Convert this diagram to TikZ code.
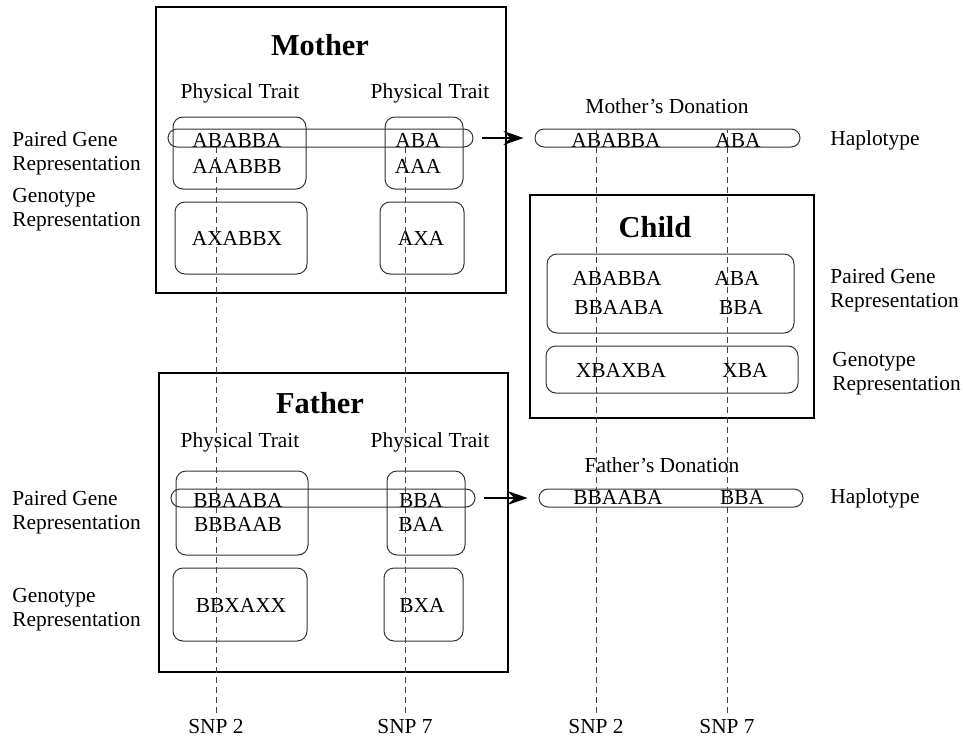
\documentclass[tikz,border=0pt]{standalone}
\usepackage{fontspec}
\setmainfont{Liberation Serif}
\usetikzlibrary{math}
\usetikzlibrary{arrows.meta}

\tikzset{
  txt/.style={font=\fontsize{10.7}{12}\selectfont},
  side/.style={font=\fontsize{10.7}{12}\selectfont, anchor=west, align=left, inner sep=0pt},
  heading/.style={font=\fontsize{15.2}{18}\selectfont\bfseries},
  person/.style={line width=1pt},
  genebox/.style={draw=black!80, line width=0.5pt, rounded corners=5pt},
  bar/.style={draw=black!80, line width=0.5pt, rounded corners=4.5pt, minimum height=9pt, inner sep=0pt},
  snpline/.style={black!75, line width=0.4pt, dash pattern=on 3pt off 2pt},
  passon/.style={-{Stealth[length=10pt, width=7pt, inset=3.5pt]}, line width=0.6pt, shorten <=4pt, shorten >=5.5pt}
}

\begin{document}
\begin{tikzpicture}[x=0.5pt, y=-0.5pt]
\useasboundingbox (0,0) rectangle (963,744);

% SNP columns
\tikzmath{ \snpa = 216; \snpb = 405; \snpc = 596; \snpd = 727; \ybot = 727; }

% Mother
\draw[person] (156,7) rectangle (506,293);
\node[heading] (mtitle) at (320,45) {Mother};
\node[txt] (mtraitl) at (240,93) {Physical Trait};
\node[txt] (mtraitr) at (430,93) {Physical Trait};
\draw[genebox] (173,117) rectangle (306,189);
\draw[genebox] (385,117) rectangle (463,189);
\draw[genebox] (175,202) rectangle (307,274);
\draw[genebox] (380,202) rectangle (464,274);
\node[bar, minimum width=152.5pt] (mbar) at (320.5,138) {};
\node[txt] (mpa1) at (237,140) {ABABBA};
\node[txt] (mpa2) at (237,166) {AAABBB};
\node[txt] (mpb1) at (418,140) {ABA};
\node[txt] (mpb2) at (418,166) {AAA};
\node[txt] (mga) at (237,238) {AXABBX};
\node[txt] (mgb) at (421,238) {AXA};
\node[side] (mpairlab) at (12,153) {Paired Gene\\Representation};
\node[side] (mgenolab) at (12,210) {Genotype\\Representation};

% Mother's donation
\node[txt] (mdontxt) at (667,106) {Mother's Donation};
\node[bar, minimum width=132.5pt] (mdon) at (667.5,138) {};
\node[txt] (mda) at (616,140) {ABABBA};
\node[txt] (mdb) at (738,140) {ABA};
\node[side] (mhaplo) at (830,140) {Haplotype};
\draw[passon] (mbar) -- (mdon);

% Child
\draw[person] (530,195) rectangle (814,418);
\node[heading] (ctitle) at (655,227) {Child};
\draw[genebox] (547,254) rectangle (794,333);
\draw[genebox] (546,346) rectangle (798,393);
\node[txt] (cpa1) at (617,278) {ABABBA};
\node[txt] (cpa2) at (619,307) {BBAABA};
\node[txt] (cpb1) at (737,278) {ABA};
\node[txt] (cpb2) at (741,307) {BBA};
\node[txt] (cga) at (621,370) {XBAXBA};
\node[txt] (cgb) at (745,370) {XBA};
\node[side] (cpairlab) at (830,290.5) {Paired Gene\\Representation};
\node[side] (cgenolab) at (832,373.5) {Genotype\\Representation};

% Father
\draw[person] (159,373) rectangle (508,672);
\node[heading] (ftitle) at (320,403) {Father};
\node[txt] (ftraitl) at (240,442) {Physical Trait};
\node[txt] (ftraitr) at (430,442) {Physical Trait};
\draw[genebox] (176,471) rectangle (308,555);
\draw[genebox] (387,471) rectangle (465,555);
\draw[genebox] (173,568) rectangle (307,641);
\draw[genebox] (384,568) rectangle (463,641);
\node[bar, minimum width=152pt] (fbar) at (323,498) {};
\node[txt] (fpa1) at (238,500) {BBAABA};
\node[txt] (fpa2) at (238,524) {BBBAAB};
\node[txt] (fpb1) at (421,500) {BBA};
\node[txt] (fpb2) at (421,524) {BAA};
\node[txt] (fga) at (241,605) {BBXAXX};
\node[txt] (fgb) at (422,605) {BXA};
\node[side] (fpairlab) at (12,512) {Paired Gene\\Representation};
\node[side] (fgenolab) at (12,610) {Genotype\\Representation};

% Father's donation
\node[txt] (fdontxt) at (662,465) {Father's Donation};
\node[bar, minimum width=132pt] (fdon) at (671,498) {};
\node[txt] (fda) at (618,497) {BBAABA};
\node[txt] (fdb) at (742,497) {BBA};
\node[side] (fhaplo) at (830,498) {Haplotype};
\draw[passon] (fbar) -- (fdon);

% SNP markers
\node[txt] (snp2l) at (\snpa,\ybot) {SNP 2};
\node[txt] (snp7l) at (\snpb,\ybot) {SNP 7};
\node[txt] (snp2r) at (\snpc,\ybot) {SNP 2};
\node[txt] (snp7r) at (\snpd,\ybot) {SNP 7};
\coordinate (top2l) at (\snpa,145);
\coordinate (top7l) at (\snpb,145);
\coordinate (top2r) at (\snpc,130);
\coordinate (top7r) at (\snpd,130);
\draw[snpline] (snp2l) -- (top2l);
\draw[snpline] (snp7l) -- (top7l);
\draw[snpline] (snp2r) -- (top2r);
\draw[snpline] (snp7r) -- (top7r);

\end{tikzpicture}
\end{document}
